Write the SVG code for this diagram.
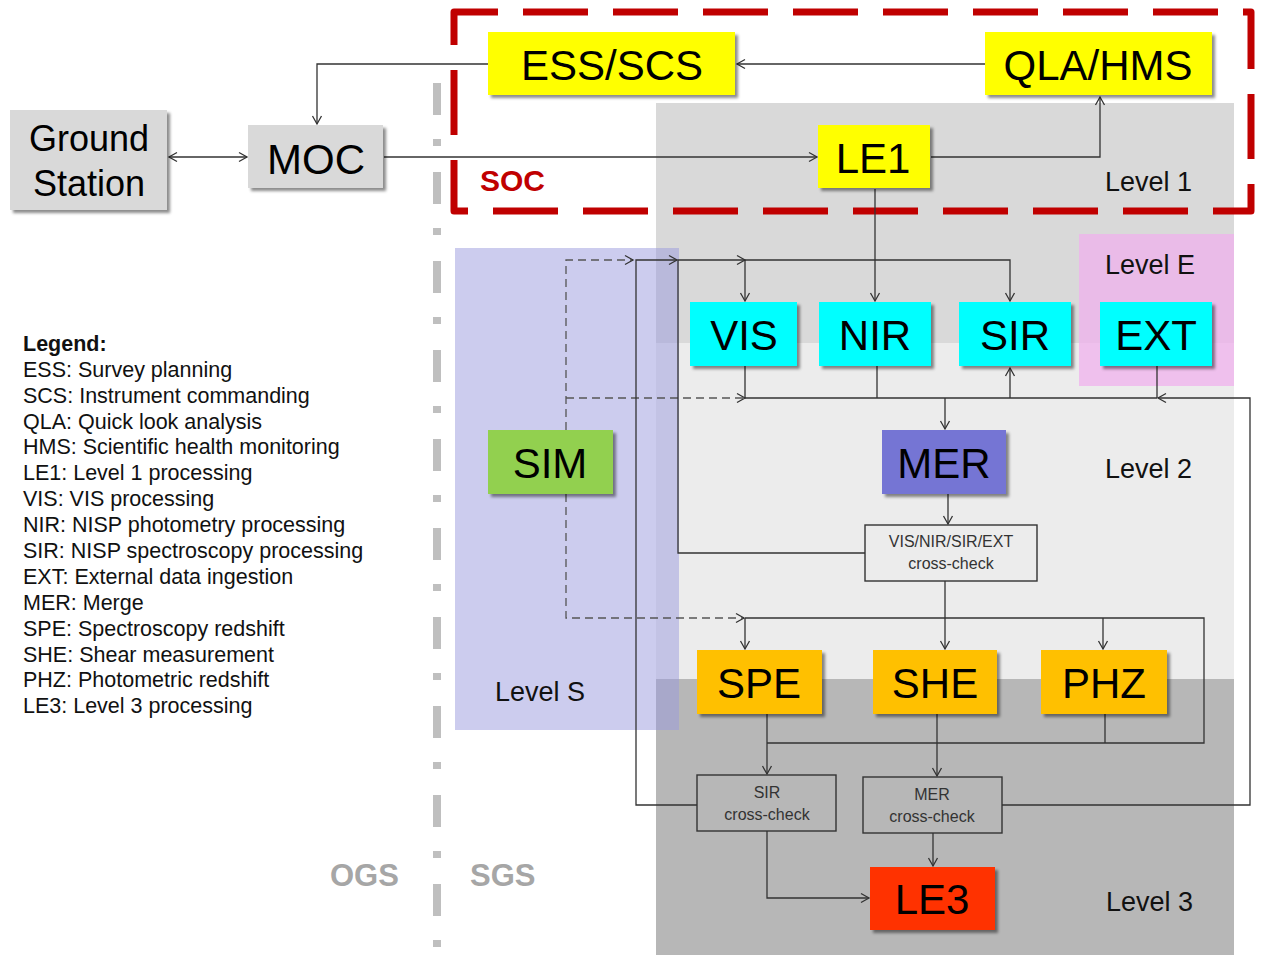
<svg xmlns="http://www.w3.org/2000/svg" width="1262" height="955" viewBox="0 0 1262 955">
<defs>
<style>
.node{stroke:none;filter:url(#sh)}
.lbl{font-family:"Liberation Sans",Arial,sans-serif;font-size:42px;fill:#000;text-anchor:middle}
.gs{font-family:"Liberation Sans",Arial,sans-serif;font-size:36px;fill:#000;text-anchor:middle}
.lvl{font-family:"Liberation Sans",Arial,sans-serif;font-size:27px;fill:#111}
.cc{fill:none;stroke:#333;stroke-width:1.4}
.cct{font-family:"Liberation Sans",Arial,sans-serif;font-size:16px;fill:#333;text-anchor:middle}
.leg{font-family:"Liberation Sans",Arial,sans-serif;font-size:21.5px;fill:#111}
.grp{font-family:"Liberation Sans",Arial,sans-serif;font-size:31px;font-weight:bold;fill:#a6a6a6}
.c{fill:none;stroke:#333;stroke-width:1.3}
.a{marker-end:url(#arr)}
.d{stroke:#555;stroke-dasharray:8 5}
</style>
<filter id="sh" x="-10%" y="-10%" width="125%" height="130%">
<feDropShadow dx="3" dy="3" stdDeviation="1.5" flood-color="#000" flood-opacity="0.45"/>
</filter>
<marker id="arr" markerUnits="userSpaceOnUse" markerWidth="12" markerHeight="12" refX="9" refY="5" orient="auto-start-reverse" viewBox="0 0 12 10">
<path d="M1,0.5 L9,5 L1,9.5" fill="none" stroke="#333" stroke-width="1.3"/>
</marker>
</defs>

<g id="backgrounds">
<rect x="656" y="103" width="578" height="240" fill="#d9d9d9"/>
<rect x="656" y="343" width="578" height="336" fill="#ececec"/>
<rect x="656" y="679" width="578" height="276" fill="#b7b7b7"/>
<rect x="1079" y="234" width="155" height="152" fill="#efb1ec" fill-opacity="0.76"/>
<rect x="455" y="248" width="224" height="482" fill="#9999dd" fill-opacity="0.5"/>
</g>

<g id="boundaries">
<line x1="437" y1="83" x2="437" y2="955" stroke="#bfbfbf" stroke-width="8" stroke-dasharray="32 24 7 26"/>
<path d="M454,33 V12 H1251 V211 H454 Z" fill="none" stroke="#c00000" stroke-width="7" stroke-linejoin="round" stroke-dasharray="65 25"/>
</g>

<g id="labels">
<text x="480" y="191" font-family="Liberation Sans,Arial,sans-serif" font-size="30" font-weight="bold" fill="#c00000">SOC</text>
<text class="lvl" x="1105" y="191">Level 1</text>
<text class="lvl" x="1105" y="274">Level E</text>
<text class="lvl" x="1105" y="478">Level 2</text>
<text class="lvl" x="1106" y="911">Level 3</text>
<text class="lvl" x="495" y="701">Level S</text>
<text class="grp" x="330" y="886">OGS</text>
<text class="grp" x="470" y="886">SGS</text>
</g>

<g id="legend">
<text class="leg" x="23" y="351" font-weight="bold">Legend:</text>
<text class="leg" x="23" y="377">ESS: Survey planning</text>
<text class="leg" x="23" y="403">SCS: Instrument  commanding</text>
<text class="leg" x="23" y="429">QLA: Quick look analysis</text>
<text class="leg" x="23" y="454">HMS: Scientific health monitoring</text>
<text class="leg" x="23" y="480">LE1: Level 1 processing</text>
<text class="leg" x="23" y="506">VIS: VIS processing</text>
<text class="leg" x="23" y="532">NIR: NISP photometry processing</text>
<text class="leg" x="23" y="558">SIR: NISP spectroscopy processing</text>
<text class="leg" x="23" y="584">EXT: External data ingestion</text>
<text class="leg" x="23" y="610">MER: Merge</text>
<text class="leg" x="23" y="636">SPE: Spectroscopy redshift</text>
<text class="leg" x="23" y="662">SHE: Shear measurement</text>
<text class="leg" x="23" y="687">PHZ: Photometric redshift</text>
<text class="leg" x="23" y="713">LE3: Level 3 processing</text>
</g>

<g id="connectors">
<path class="c a" d="M169,157 H247" marker-start="url(#arr)"/>
<path class="c a" d="M384,157 H817"/>
<path class="c a" d="M488,64 H317 V124"/>
<path class="c a" d="M985,64 H737"/>
<path class="c a" d="M931,157 H1100 V97"/>
<path class="c a" d="M875,189 V301"/>
<path class="c d a" d="M566,430 V260 H633"/>
<path class="c d a" d="M566,398 H745"/>
<path class="c d a" d="M566,494 V618 H744"/>
<path class="c a" d="M697,805 H636 V260 H677"/>
<path class="c a" d="M865,553 H678 V260 H745"/>
<path class="c a" d="M745,260 H1010 V301"/>
<path class="c a" d="M745,260 V301"/>
<path class="c" d="M745,366 V398 M877,366 V398 M1157,366 V398 M745,398 H1157"/>
<path class="c a" d="M1010,398 V368"/>
<path class="c a" d="M945,398 V429"/>
<path class="c a" d="M1002,805 H1250 V398 H1158"/>
<path class="c a" d="M948,494 V524"/>
<path class="c" d="M945,581 V618 M745,618 H1204 V743 H767 M1105,714 V743"/>
<path class="c a" d="M745,618 V649"/>
<path class="c a" d="M945,618 V649"/>
<path class="c a" d="M1103,618 V649"/>
<path class="c a" d="M767,714 V774"/>
<path class="c a" d="M937,714 V776"/>
<path class="c a" d="M767,831 V898 H869"/>
<path class="c a" d="M933,833 V866"/>
</g>

<g id="ground-station"><rect class="node" x="10" y="110" width="157" height="100" fill="#d9d9d9"/><text class="gs" x="89" y="151">Ground</text><text class="gs" x="89" y="196">Station</text></g>
<g id="moc"><rect class="node" x="248" y="125" width="135" height="63" fill="#d9d9d9"/><text class="lbl" x="316" y="174">MOC</text></g>
<g id="ess-scs"><rect class="node" x="488" y="32" width="247" height="63" fill="#ffff00"/><text class="lbl" x="612" y="80">ESS/SCS</text></g>
<g id="qla-hms"><rect class="node" x="985" y="32" width="227" height="63" fill="#ffff00"/><text class="lbl" x="1098" y="80">QLA/HMS</text></g>
<g id="le1"><rect class="node" x="818" y="125" width="112" height="63" fill="#ffff00"/><text class="lbl" x="873" y="173">LE1</text></g>
<g id="vis"><rect class="node" x="690" y="302" width="107" height="64" fill="#00ffff"/><text class="lbl" x="744" y="350">VIS</text></g>
<g id="nir"><rect class="node" x="819" y="302" width="112" height="64" fill="#00ffff"/><text class="lbl" x="875" y="350">NIR</text></g>
<g id="sir"><rect class="node" x="959" y="302" width="112" height="64" fill="#00ffff"/><text class="lbl" x="1015" y="350">SIR</text></g>
<g id="ext"><rect class="node" x="1100" y="302" width="112" height="64" fill="#00ffff"/><text class="lbl" x="1156" y="350">EXT</text></g>
<g id="sim"><rect class="node" x="488" y="430" width="125" height="64" fill="#92d050"/><text class="lbl" x="550" y="478">SIM</text></g>
<g id="mer"><rect class="node" x="882" y="430" width="124" height="64" fill="#7474d4"/><text class="lbl" x="944" y="478">MER</text></g>
<g id="vis-cc"><rect class="cc" x="865" y="525" width="172" height="56"/><text class="cct" x="951" y="547">VIS/NIR/SIR/EXT</text><text class="cct" x="951" y="569">cross-check</text></g>
<g id="spe"><rect class="node" x="697" y="650" width="125" height="64" fill="#ffc000"/><text class="lbl" x="759" y="698">SPE</text></g>
<g id="she"><rect class="node" x="873" y="650" width="124" height="64" fill="#ffc000"/><text class="lbl" x="935" y="698">SHE</text></g>
<g id="phz"><rect class="node" x="1041" y="650" width="126" height="64" fill="#ffc000"/><text class="lbl" x="1104" y="698">PHZ</text></g>
<g id="sir-cc"><rect class="cc" x="697" y="775" width="139" height="56"/><text class="cct" x="767" y="798">SIR</text><text class="cct" x="767" y="820">cross-check</text></g>
<g id="mer-cc"><rect class="cc" x="863" y="777" width="139" height="56"/><text class="cct" x="932" y="800">MER</text><text class="cct" x="932" y="822">cross-check</text></g>
<g id="le3"><rect class="node" x="870" y="867" width="125" height="63" fill="#ff3300"/><text class="lbl" x="932" y="914">LE3</text></g>
</svg>
